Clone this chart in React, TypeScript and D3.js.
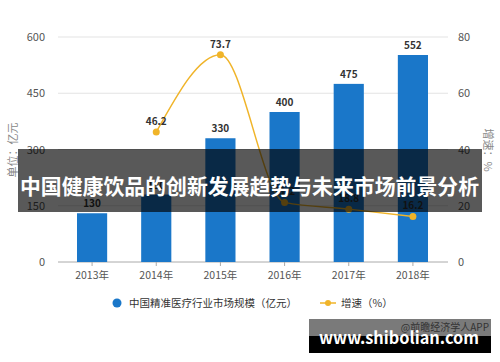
import React from "react";
import * as d3 from "d3";

const categories = ["2013年", "2014年", "2015年", "2016年", "2017年", "2018年"];
const marketSize = [130, 180, 330, 400, 475, 552];
const growthYears = ["2014年", "2015年", "2016年", "2017年", "2018年"];
const growth = [46.2, 73.7, 21.2, 18.8, 16.2];
const leftTicks = [0, 150, 300, 450, 600];
const rightTicks = [0, 20, 40, 60, 80];

const W = 500, H = 362;
const m = { left: 60, right: 55, top: 37, bottom: 100 };
const FONT = "'Noto Sans CJK SC', 'Noto Sans', sans-serif";

export default function App() {
  const x = d3.scaleBand().domain(categories).range([m.left, W - m.right]).paddingInner(0.53).paddingOuter(0.265);
  const xc = (c: string) => (x(c) as number) + x.bandwidth() / 2;
  const yL = d3.scaleLinear().domain([0, 600]).range([H - m.bottom, m.top]);
  const yR = d3.scaleLinear().domain([0, 80]).range([H - m.bottom, m.top]);
  const line = d3.line<number>()
    .x((_, i) => xc(growthYears[i]))
    .y((d) => yR(d))
    .curve(d3.curveMonotoneX);
  const gx0 = m.left - 2, gx1 = W - m.right + 3;
  const blue = "#1a77c9";
  const gold = "#f0b429";
  return (
    <svg width={W} height={H} style={{ position: "absolute", left: 0, top: 0, background: "#fff" }} fontFamily={FONT}>
      {leftTicks.map((t, i) => (
        <g key={t}>
          <line x1={gx0} x2={gx1} y1={yL(t)} y2={yL(t)} stroke={i === 0 ? "#aaa" : "#e3e3e3"} strokeWidth={1} />
          <text x={45} y={yL(t) + 4} textAnchor="end" fontSize={11} fill="#555">{t}</text>
        </g>
      ))}
      {rightTicks.map((t) => (
        <text key={t} x={458} y={yR(t) + 4} textAnchor="start" fontSize={11} fill="#555">{t}</text>
      ))}
      <text transform={`translate(17,150) rotate(-90)`} textAnchor="middle" fontSize={11} fill="#888">单位：亿元</text>
      <text transform={`translate(484,150) rotate(90)`} textAnchor="middle" fontSize={11} fill="#888">增速：%</text>
      {categories.map((c) => (
        <g key={c}>
          <line x1={xc(c)} x2={xc(c)} y1={yL(0)} y2={yL(0) + 4} stroke="#aaa" />
          <text x={xc(c)} y={yL(0) + 17} textAnchor="middle" fontSize={10.5} fill="#555">{c}</text>
        </g>
      ))}
      {marketSize.map((v, i) => (
        <g key={i}>
          <rect x={x(categories[i])} y={yL(v)} width={x.bandwidth()} height={yL(0) - yL(v)} fill={blue} />
          <text x={xc(categories[i])} y={yL(v) - 6} textAnchor="middle" fontSize={10} fontWeight="bold" fill="#333">{v}</text>
        </g>
      ))}
      <path d={line(growth) || ""} fill="none" stroke={gold} strokeWidth={1.5} />
      {growth.map((v, i) => (
        <g key={i}>
          <circle cx={xc(growthYears[i])} cy={yR(v)} r={3.5} fill={gold} />
          <text x={xc(growthYears[i])} y={yR(v) - 7} textAnchor="middle" fontSize={10} fontWeight="bold" fill="#333">{v}</text>
        </g>
      ))}
      <circle cx={117} cy={303} r={4.5} fill={blue} />
      <text x={129} y={307} fontSize={10.5} fill="#333">中国精准医疗行业市场规模（亿元）</text>
      <line x1={320} x2={336} y1={303} y2={303} stroke={gold} strokeWidth={1.5} />
      <circle cx={328} cy={303} r={3} fill={gold} />
      <text x={341} y={307} fontSize={10.5} fill="#333">增速（%）</text>
      <rect x={18} y={149} width={464} height={63} fill="rgba(0,0,0,0.65)" />
      <text x={20} y={194} fontSize={21} fontWeight="bold" fill="#fff" textLength={459} lengthAdjust="spacingAndGlyphs">中国健康饮品的创新发展趋势与未来市场前景分析</text>
      <rect x={309} y={319} width={182} height={17} fill="#7a7a7a" />
      <rect x={309} y={336} width={182} height={17} fill="#000" />
      <text x={489} y={331} textAnchor="end" fontSize={10} fill="#333">@前瞻经济学人APP</text>
      <text x={319} y={344} fontSize={17} fontWeight="bold" fill="#fff" textLength={160} lengthAdjust="spacingAndGlyphs">www.shibolian.com</text>
    </svg>
  );
}
